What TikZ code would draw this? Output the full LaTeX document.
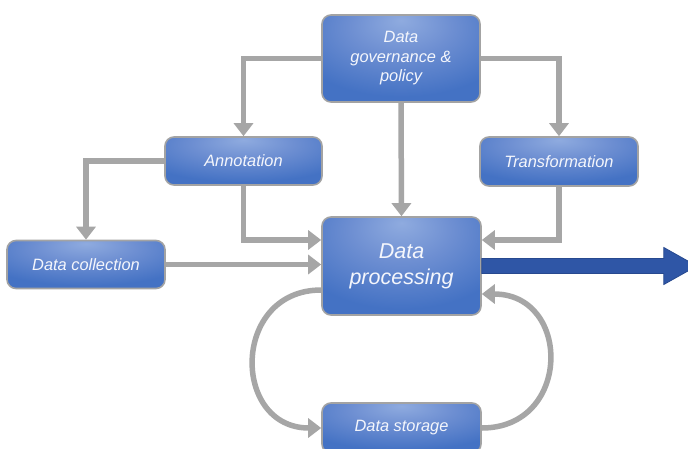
\documentclass[tikz,border=0pt]{standalone}
\usepackage{fontspec}
\setmainfont{Liberation Sans}
\usetikzlibrary{arrows.meta,calc}
\definecolor{boxedge}{HTML}{A3A3A3}
\definecolor{boxin}{HTML}{8FABDF}
\definecolor{boxmid}{HTML}{6E8FD2}
\definecolor{boxout}{HTML}{4472C4}
\definecolor{garr}{HTML}{A6A6A6}
\definecolor{barr}{HTML}{2F56A6}
\definecolor{bedge}{HTML}{27498F}
\definecolor{txt}{HTML}{F4F6FC}
\pgfdeclareradialshading{boxshade}{\pgfpoint{0bp}{22bp}}{color(0bp)=(boxin); color(16bp)=(boxmid); color(36bp)=(boxout); color(100bp)=(boxout)}
\tikzset{
  procbox/.style={draw=boxedge, line width=1.6pt, rounded corners=9pt,
    shading=boxshade, text=txt, align=center,
    inner sep=0pt, font=\itshape\fontsize{16.4}{19.5}\selectfont},
  garrow/.style={draw=garr, line width=5.5pt, -{Triangle[width=19pt,length=13pt]}},
  bigarrow/.style={fill=barr, draw=bedge, line width=0.8pt, line join=miter},
}
\begin{document}
\begin{tikzpicture}[x=1pt,y=-1pt]
\useasboundingbox (0,0) rectangle (688,448);
\clip (0,0) rectangle (688,448);
\fill[white] (0,0) rectangle (688,448);
% nodes
\node[procbox, minimum width=158pt, minimum height=87pt] (gov) at (401,58.5) {Data\\governance \&\\policy};
\node[procbox, minimum width=157pt, minimum height=48pt] (ann) at (243.5,161) {Annotation};
\node[procbox, minimum width=158pt, minimum height=49pt] (trans) at (559,161.5) {Transformation};
\node[procbox, minimum width=158pt, minimum height=48pt] (coll) at (86,264.5) {Data collection};
\node[procbox, minimum width=159pt, minimum height=98pt, font=\itshape\fontsize{21.5}{26}\selectfont] (proc) at (401.5,266) {Data\\processing};
\node[procbox, minimum width=159pt, minimum height=50pt] (stor) at (401.5,428) {Data storage};
% connectors
\draw[garrow] (gov.west) -| (ann.north);
\draw[garrow] (gov.east) -| (trans.north);
\draw[garrow] (gov.south) -- (proc.north);
\draw[garrow] (ann.west) -| (coll.north);
\draw[garrow] (ann.south) |- ([yshift=26pt]proc.west);
\draw[garrow] (trans.south) |- ([yshift=26pt]proc.east);
\draw[garrow] (coll.east) -- (coll.east -| proc.west);
\draw[garrow] ([yshift=-24pt]proc.west) .. controls +(-90,0) and +(-90,0) .. (stor.west);
\draw[garrow] (stor.east) .. controls +(90,0) and +(90,0) .. ([yshift=-28pt]proc.east);
\draw[bigarrow] ([yshift=7.5pt]proc.east) -- ++(182,0) -- ++(0,-11) -- ++(33,18.5) -- ++(-33,18.5) -- ++(0,-11) -- ([yshift=-7.5pt]proc.east) -- cycle;
\end{tikzpicture}
\end{document}
